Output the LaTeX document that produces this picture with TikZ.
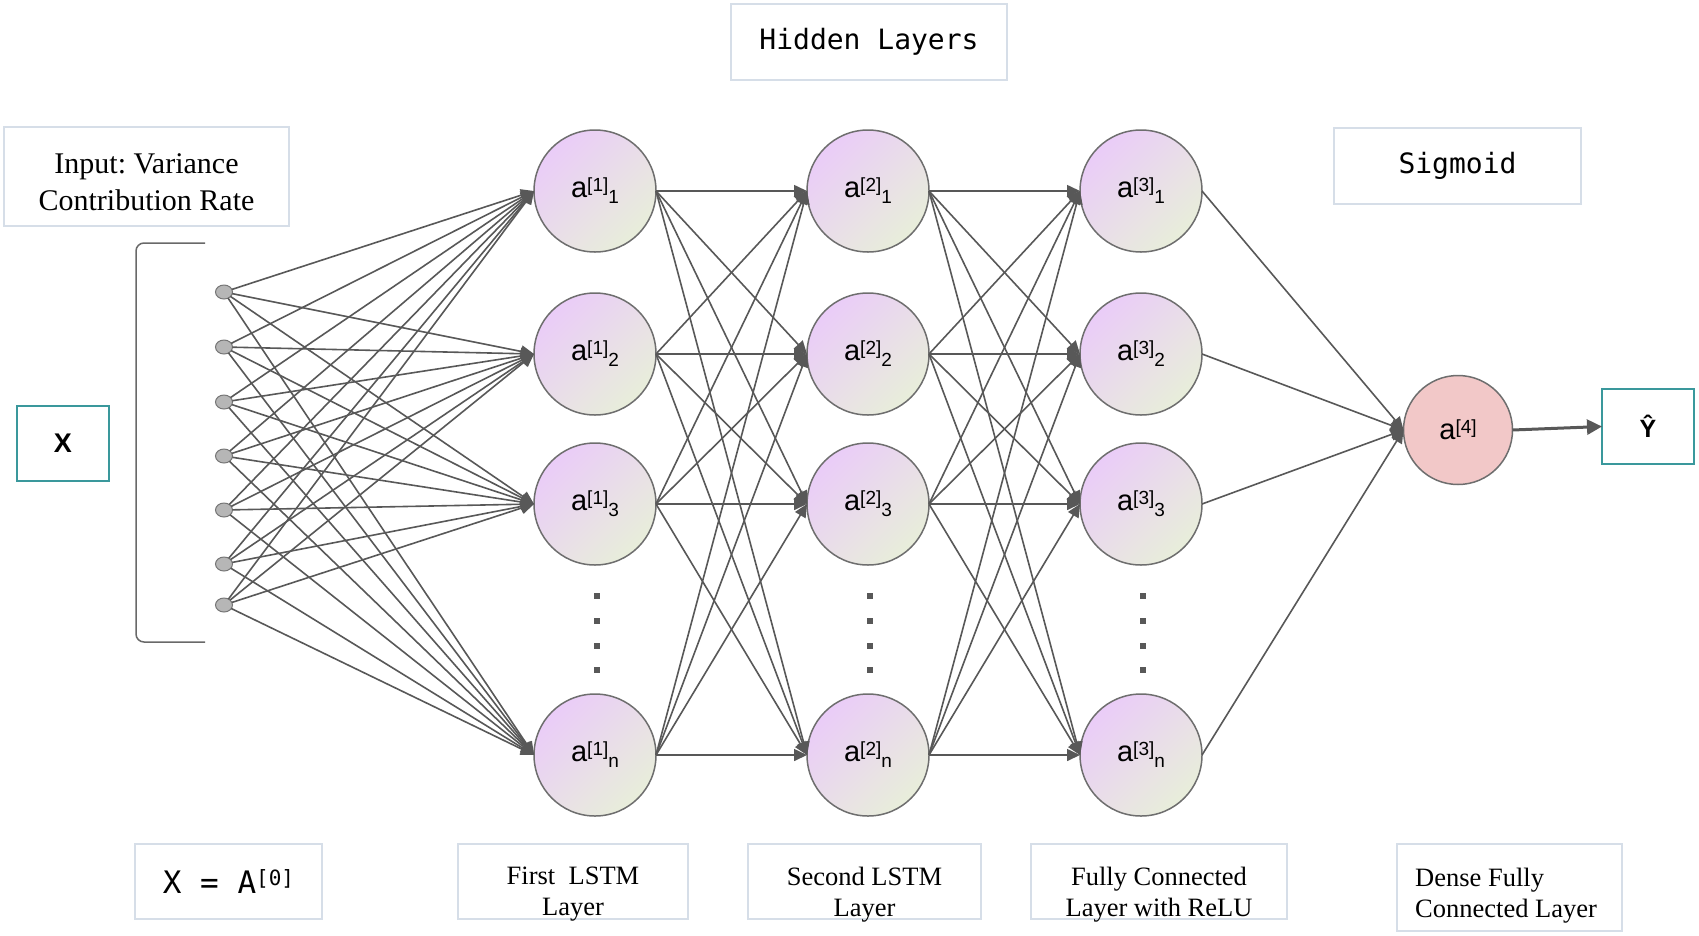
\documentclass[tikz,border=0pt]{standalone}
\usepackage{fontspec}
\setmainfont{Liberation Serif}
\newfontfamily\arialf{Liberation Sans}
\newfontfamily\monof{DejaVu Sans Mono}
\usetikzlibrary{arrows.meta,shapes.geometric}
\definecolor{boxline}{RGB}{214,222,232}
\definecolor{tealc}{RGB}{58,152,156}
\definecolor{edgec}{RGB}{88,88,88}
\definecolor{circline}{RGB}{110,110,110}
\definecolor{cpurple}{RGB}{234,204,248}
\definecolor{cgreen}{RGB}{232,238,218}
\definecolor{cpink}{RGB}{242,200,200}
\definecolor{dotfill}{RGB}{182,182,182}
\definecolor{dotline}{RGB}{118,118,118}
\newcommand\actlab[2]{{\arialf\fontsize{29}{29}\selectfont a}\raisebox{6pt}{\arialf\fontsize{19}{19}\selectfont[#1]}\raisebox{-6pt}{\arialf\fontsize{19}{19}\selectfont #2}}
\frenchspacing
\begin{document}
\begin{tikzpicture}[x=1pt,y=-1pt,
  lbox/.style={draw=boxline, line width=2pt, fill=white, inner sep=0pt, outer sep=0pt},
  tbox/.style={draw=tealc, line width=2pt, fill=white, inner sep=0pt, outer sep=0pt},
  neuron/.style={circle, draw=circline, line width=1.5pt, minimum size=122pt, inner sep=0pt, outer sep=0pt, top color=cpurple, bottom color=cgreen, shading angle=45},
  outn/.style={circle, draw=circline, line width=1.5pt, minimum size=109pt, inner sep=0pt, outer sep=0pt, fill=cpink},
  indot/.style={ellipse, draw=dotline, fill=dotfill, line width=1pt, minimum width=17pt, minimum height=14pt, inner sep=0pt, outer sep=0pt},
  vdot/.style={rectangle, fill=edgec, minimum size=6pt, inner sep=0pt},
  conn/.style={draw=edgec, line width=1.6pt, -{Triangle[length=13pt,width=12pt]}},
  bigarrow/.style={draw=edgec, line width=3pt, -{Triangle[length=15pt,width=15pt]}},
  brk/.style={draw=edgec!90, line width=1.5pt, rounded corners=8pt},
  serift/.style={font=\fontsize{30}{37}\selectfont, align=center, inner sep=0pt},
  btext/.style={font=\fontsize{26.5}{31}\selectfont, align=center, inner sep=0pt},
  monot/.style={font=\monof\fontsize{28}{28}\selectfont, inner sep=0pt}
]
\useasboundingbox (0,0) rectangle (1699,935);
\fill[white] (0,0) rectangle (1699,935);

% top / side boxes
\node[lbox, minimum width=276pt, minimum height=76pt] (hid) at (869,42) {};
\node[monot] (hidt) at (869,42) {Hidden Layers};
\node[lbox, minimum width=285pt, minimum height=99pt] (inp) at (146.5,176.5) {};
\node[serift] (inpt) at (146.5,182) {Input: Variance\\Contribution Rate};
\node[lbox, minimum width=247pt, minimum height=76pt] (sig) at (1457.5,166) {};
\node[monot] (sigt) at (1457.5,166) {Sigmoid};
\node[tbox, minimum width=92pt, minimum height=75pt] (xb) at (63,443.5) {\arialf\bfseries\fontsize{27}{27}\selectfont X};
\node[tbox, minimum width=92pt, minimum height=75pt] (yhat) at (1648,426.5) {\arialf\bfseries\fontsize{25}{25}\selectfont Ŷ};

% bottom boxes
\node[lbox, minimum width=187pt, minimum height=75pt] (xa) at (228.5,881.5) {};
\node[inner sep=0pt] (xat) at (228.5,882) {\monof\fontsize{31}{31}\selectfont X = A\raisebox{8pt}{\fontsize{21}{21}\selectfont[0]}};
\node[lbox, minimum width=230pt, minimum height=75pt] (b1) at (573,881.5) {};
\node[btext] (b1t) at (573,894.5) {First\ \ LSTM\\Layer};
\node[lbox, minimum width=233pt, minimum height=75pt] (b2) at (864.5,881.5) {};
\node[btext] (b2t) at (864.5,894.5) {Second LSTM\\Layer};
\node[lbox, minimum width=256pt, minimum height=75pt] (b3) at (1159,881.5) {};
\node[btext] (b3t) at (1159,894.5) {Fully Connected\\Layer with ReLU};
\node[lbox, minimum width=225pt, minimum height=87pt] (b4) at (1509.5,887.5) {};
\node[btext, align=left, anchor=west] (b4t) at (1415,896) {Dense Fully\\Connected Layer};

% bracket
\draw[brk] (205,243) -- (136,243) -- (136,642) -- (205,642);

% input dots
\foreach \i/\y in {1/292,2/347,3/402,4/456,5/510,6/564,7/605}
  \node[indot] (i\i) at (224,\y) {};

% hidden neurons
\foreach \l/\x in {1/595,2/868,3/1141} {
  \foreach \k/\y/\s in {1/191/1,2/354/2,3/504/3,4/755/n}
    \node[neuron] (n\l-\k) at (\x,\y) {\actlab{\l}{\s}};
  \foreach \j/\y in {1/596,2/621,3/646,4/670}
    \node[vdot] (d\l-\j) at (\x+2,\y) {};
}
\node[outn] (out) at (1458,430) {{\arialf\fontsize{29}{29}\selectfont a}\raisebox{6pt}{\arialf\fontsize{19}{19}\selectfont[4]}};

% connectors
\foreach \i in {1,...,7}
  \foreach \k in {1,...,4}
    \draw[conn] (i\i) -- (n1-\k.west);
\foreach \l/\m in {1/2,2/3}
  \foreach \a in {1,...,4}
    \foreach \b in {1,...,4}
      \draw[conn] (n\l-\a.east) -- (n\m-\b.west);
\foreach \a in {1,...,4}
  \draw[conn] (n3-\a.east) -- (out.west);
\draw[bigarrow] (out.east) -- (yhat.west);
\end{tikzpicture}
\end{document}
